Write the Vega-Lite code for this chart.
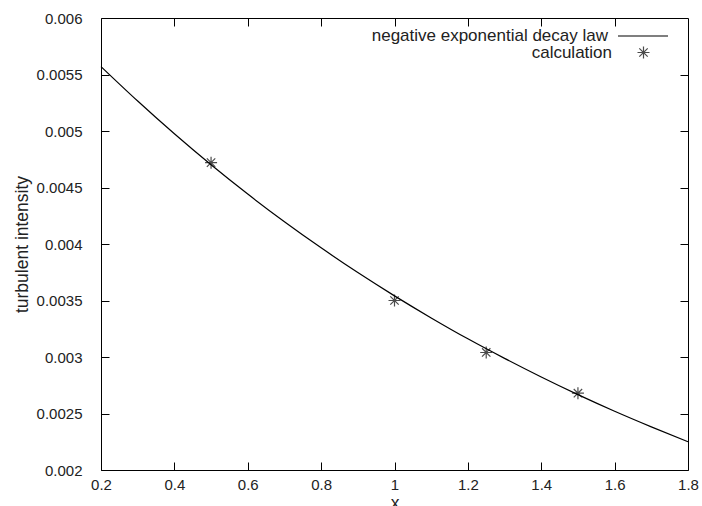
{
  "$schema": "https://vega.github.io/schema/vega-lite/v6.json",
  "width": 587,
  "height": 452,
  "autosize": "none",
  "padding": {"left": 101, "top": 18, "right": 14, "bottom": 36},
  "background": "white",
  "config": {
    "view": {"stroke": "black", "strokeWidth": 1},
    "font": "Liberation Sans",
    "axis": {
      "domain": false,
      "grid": false,
      "tickColor": "black",
      "tickSize": -8,
      "tickWidth": 1,
      "labelColor": "#222222",
      "labelFontSize": 15,
      "labelFont": "Liberation Sans",
      "titleFont": "Liberation Sans",
      "titleFontSize": 17.5,
      "titleFontWeight": "normal",
      "titleColor": "#222222"
    },
    "legend": {
      "orient": "none",
      "title": null,
      "padding": 0,
      "labelFontSize": 17,
      "labelFont": "Liberation Sans",
      "labelColor": "#222222",
      "labelAlign": "right",
      "labelLimit": 400
    }
  },
  "datasets": {
    "curve": [
      {"x": 0.2, "y": 0.00557, "series": "negative exponential decay law"},
      {"x": 0.3, "y": 0.005265, "series": "negative exponential decay law"},
      {"x": 0.4, "y": 0.004975, "series": "negative exponential decay law"},
      {"x": 0.5, "y": 0.004701, "series": "negative exponential decay law"},
      {"x": 0.6, "y": 0.004442, "series": "negative exponential decay law"},
      {"x": 0.7, "y": 0.004197, "series": "negative exponential decay law"},
      {"x": 0.8, "y": 0.003966, "series": "negative exponential decay law"},
      {"x": 0.9, "y": 0.003747, "series": "negative exponential decay law"},
      {"x": 1.0, "y": 0.003541, "series": "negative exponential decay law"},
      {"x": 1.1, "y": 0.003346, "series": "negative exponential decay law"},
      {"x": 1.2, "y": 0.003161, "series": "negative exponential decay law"},
      {"x": 1.3, "y": 0.002988, "series": "negative exponential decay law"},
      {"x": 1.4, "y": 0.002823, "series": "negative exponential decay law"},
      {"x": 1.5, "y": 0.002667, "series": "negative exponential decay law"},
      {"x": 1.6, "y": 0.00252, "series": "negative exponential decay law"},
      {"x": 1.7, "y": 0.002382, "series": "negative exponential decay law"},
      {"x": 1.8, "y": 0.00225, "series": "negative exponential decay law"}
    ],
    "calc": [
      {"x": 0.5, "y": 0.00472, "kind": "calculation"},
      {"x": 1.0, "y": 0.0035, "kind": "calculation"},
      {"x": 1.25, "y": 0.00304, "kind": "calculation"},
      {"x": 1.5, "y": 0.00268, "kind": "calculation"}
    ]
  },
  "layer": [
    {
      "data": {"name": "curve"},
      "mark": {"type": "line", "strokeWidth": 1.2, "interpolate": "monotone"},
      "encoding": {
        "x": {"field": "x", "type": "quantitative", "scale": {"domain": [0.2, 1.8], "nice": false, "zero": false},
          "axis": {"orient": "bottom", "title": "x", "values": [0.2,0.4,0.6,0.8,1,1.2,1.4,1.6,1.8], "format": "~g", "labelPadding": 15, "titlePadding": 2, "labelFlush": false}},
        "y": {"field": "y", "type": "quantitative", "scale": {"domain": [0.002, 0.006], "nice": false, "zero": false},
          "axis": {"orient": "left", "title": "turbulent intensity", "values": [0.002,0.0025,0.003,0.0035,0.004,0.0045,0.005,0.0055,0.006], "format": "~g", "labelPadding": 27, "titlePadding": 5, "labelFlush": false}},
        "color": {"field": "series", "type": "nominal", "scale": {"domain": ["negative exponential decay law"], "range": ["black"]},
          "legend": {"legendX": 516, "legendY": -8, "symbolType": "stroke", "symbolSize": 2500, "symbolStrokeWidth": 1.2, "labelOffset": -61}}
      }
    },
    {
      "data": {"name": "calc"},
      "mark": {"type": "point", "filled": false, "color": "black", "size": 144, "strokeWidth": 1.2},
      "encoding": {
        "x": {"field": "x", "type": "quantitative", "scale": {"domain": [0.2, 1.8], "nice": false, "zero": false},
          "axis": {"orient": "top", "title": null, "labels": false, "values": [0.4,0.6,0.8,1,1.2,1.4,1.6]}},
        "y": {"field": "y", "type": "quantitative", "scale": {"domain": [0.002, 0.006], "nice": false, "zero": false},
          "axis": {"orient": "right", "title": null, "labels": false, "values": [0.0025,0.003,0.0035,0.004,0.0045,0.005,0.0055]}},
        "shape": {"field": "kind", "type": "nominal",
          "scale": {"domain": ["calculation"], "range": ["M-1,0L1,0M0,-1L0,1M-0.7,-0.7L0.7,0.7M-0.7,0.7L0.7,-0.7"]},
          "legend": {"legendX": 534, "legendY": 26, "symbolSize": 144, "symbolStrokeColor": "black", "symbolStrokeWidth": 1.2, "symbolFillColor": "transparent", "labelOffset": -40}}
      }
    }
  ],
  "resolve": {"axis": {"x": "independent", "y": "independent"}}
}
